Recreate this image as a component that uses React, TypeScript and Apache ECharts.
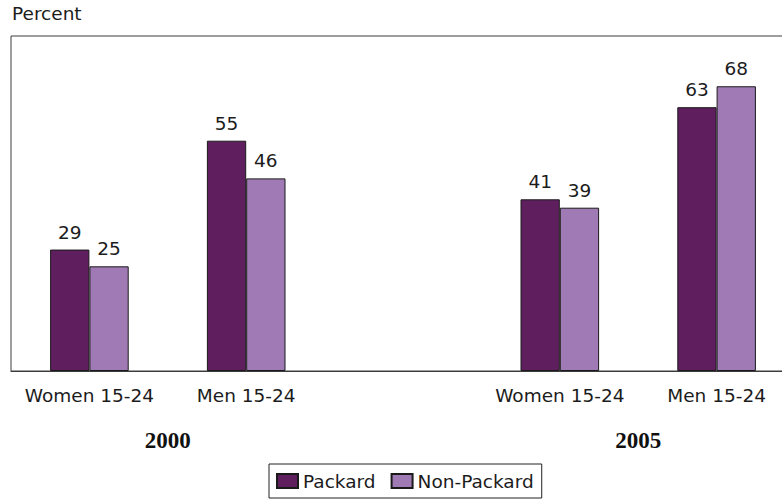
import React, { useEffect, useRef } from "react";
import * as echarts from "echarts";

// Age/sex groups per survey round; the empty slot separates 2000 from 2005
const categories = ["Women 15-24", "Men 15-24", "", "Women 15-24", "Men 15-24"];
const packard = [29, 55, "-", 41, 63];
const nonPackard = [25, 46, "-", 39, 68];
// Year captions sit on the boundaries between each pair of groups
const yearLabels = ["", "2000", "", "", "2005", ""];

const FONT = "DejaVu Sans";
const TEXT = "#1c1c1c";

export default function App() {
  const ref = useRef<HTMLDivElement>(null);

  useEffect(() => {
    if (!ref.current) return;
    const chart = echarts.init(ref.current, undefined, { renderer: "svg" });
    const valueLabel = {
      show: true,
      position: "top",
      distance: 8,
      color: TEXT,
      fontFamily: FONT,
      fontSize: 18.5,
    };
    chart.setOption({
      animation: false,
      backgroundColor: "#ffffff",
      title: {
        text: "Percent",
        left: 12,
        top: 4,
        padding: 0,
        textStyle: { fontFamily: FONT, fontSize: 18.5, fontWeight: "normal", color: TEXT },
      },
      grid: {
        left: 11,
        right: 0,
        top: 36,
        bottom: 129,
        outerBoundsMode: "none",
        containLabel: false,
        show: true,
        borderColor: "#3c3c3c",
        borderWidth: 1,
      },
      legend: {
        left: 269,
        top: 464,
        padding: [6, 8, 6, 7],
        itemWidth: 21,
        itemHeight: 14,
        itemGap: 15,
        borderColor: "#222",
        borderWidth: 1,
        icon: "rect",
        textStyle: { fontFamily: FONT, fontSize: 18.5, color: TEXT, lineHeight: 22 },
        data: ["Packard", "Non-Packard"],
      },
      xAxis: [
        {
          type: "category",
          data: categories,
          axisLine: { show: true, lineStyle: { color: "#3c3c3c" } },
          axisTick: { show: false },
          axisLabel: {
            interval: 0,
            margin: 15,
            color: TEXT,
            fontFamily: FONT,
            fontSize: 18.5,
          },
        },
        {
          type: "category",
          position: "bottom",
          offset: 50,
          boundaryGap: false,
          data: yearLabels,
          axisLine: { show: false },
          axisTick: { show: false },
          axisLabel: {
            interval: 0,
            margin: 8,
            color: "#111",
            fontFamily: "Liberation Serif",
            fontWeight: "bold",
            fontSize: 23,
          },
        },
      ],
      yAxis: {
        type: "value",
        min: 0,
        max: 80,
        show: false,
        splitLine: { show: false },
      },
      series: [
        {
          name: "Packard",
          type: "bar",
          data: packard,
          barWidth: 39.3,
          barGap: "0%",
          itemStyle: { color: "#5f1f5f", borderColor: "#1a1a1a", borderWidth: 1 },
          label: valueLabel,
        },
        {
          name: "Non-Packard",
          type: "bar",
          data: nonPackard,
          barWidth: 39.3,
          barGap: "0%",
          itemStyle: { color: "#a07ab4", borderColor: "#1a1a1a", borderWidth: 1 },
          label: valueLabel,
        },
      ],
    });
    return () => chart.dispose();
  }, []);

  // The plot frame runs on past the right edge, so the chart is wider than its clip box
  return (
    <div
      style={{
        position: "fixed",
        left: 0,
        top: 0,
        width: 782,
        height: 500,
        overflow: "hidden",
        background: "#fff",
      }}
    >
      <div ref={ref} style={{ width: 795, height: 500 }} />
    </div>
  );
}
